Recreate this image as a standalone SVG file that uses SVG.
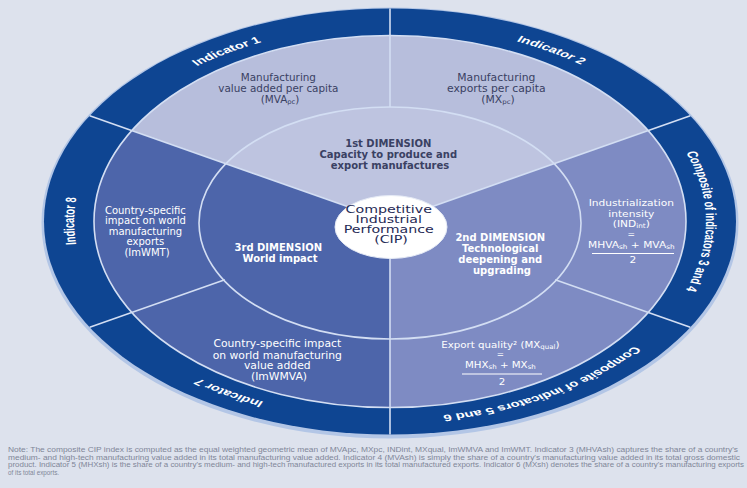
<svg xmlns="http://www.w3.org/2000/svg" width="747" height="488" viewBox="0 0 747 488">
<defs>
<style>
.t{font-family:"DejaVu Sans","Liberation Sans",sans-serif;font-size:10px;text-anchor:middle}
.f{font-size:9.5px}
.dk{fill:#3a4163}
.nv{fill:#1f2a55}
.wh{fill:#ffffff}
.b{font-weight:bold}
.sub{font-size:6.5px}
.eq{font-size:8px}
.ln{stroke:#d3def3;stroke-width:1.6;fill:none}
.frac{stroke:#ffffff;stroke-width:1}
.bl{font-family:"Liberation Sans",Arial,sans-serif;font-size:9.3px;font-weight:bold;fill:#ffffff;text-anchor:middle}
.note{font-family:"Liberation Sans",Arial,sans-serif;font-size:6.3px;fill:#7f8698}
</style>
<clipPath id="cIn"><ellipse cx="390" cy="221.5" rx="296" ry="186"/></clipPath>
<clipPath id="cMid"><ellipse cx="390" cy="223" rx="191" ry="116"/></clipPath>
<path id="arc" d="M -170.26,-98.3 A 196.6 196.6 0 1 1 170.26,98.3 A 196.6 196.6 0 1 1 -170.26,-98.3"/>
</defs>

<rect width="747" height="488" fill="#dde2ed"/>

<g id="outer-band">
<ellipse cx="390" cy="223" rx="348.5" ry="215.5" fill="#b3c6e6"/>
<ellipse cx="390" cy="221.5" rx="346" ry="213" fill="#0e4592"/>
</g>

<g id="sectors" clip-path="url(#cIn)">
<polygon id="dim1-area" fill="#b7bedc" points="390,221.5 -206,11.5 -206,-200 986,-200 986,11.5"/>
<polygon id="dim2-area" fill="#7e8bc3" points="390,221.5 986,11.5 986,600 390,600"/>
<polygon id="dim3-area" fill="#4d65aa" points="390,221.5 390,600 -206,600 -206,11.5"/>
</g>
<g id="dim1-inner" clip-path="url(#cMid)">
<polygon fill="#bec4e0" points="390,221.5 -206,11.5 -206,-200 986,-200 986,11.5"/>
</g>

<g id="connectors">
<ellipse class="ln" cx="390" cy="221.5" rx="296" ry="186" stroke="#c4d5f0" stroke-width="2"/>
<ellipse class="ln" cx="390" cy="223" rx="191" ry="116"/>
<line class="ln" x1="390" y1="221.5" x2="89.7" y2="115.7"/>
<line class="ln" x1="390" y1="221.5" x2="690.3" y2="115.7"/>
<line class="ln" x1="390" y1="107" x2="390" y2="8.5"/>
<line class="ln" x1="390" y1="221.5" x2="390" y2="434.5"/>
<line class="ln" x1="224.8" y1="279.7" x2="89.7" y2="327.3"/>
<line class="ln" x1="555.2" y1="279.7" x2="690.3" y2="327.3"/>
</g>

<g id="cip">
<ellipse cx="391" cy="227" rx="56" ry="31.5" fill="#ffffff" stroke="#e6ebf6" stroke-width="1"/>
<text class="t nv" transform="translate(391,0) scale(1.42,1)">
<tspan x="0" y="213.5">Competitive</tspan>
<tspan x="0" y="223.5">Industrial</tspan>
<tspan x="0" y="233.5">Performance</tspan>
<tspan x="0" y="243">(CIP)</tspan>
</text>
</g>

<g id="dim1">
<text class="t dk b">
<tspan x="390" y="146.5">1st DIMENSION</tspan>
<tspan x="390" y="158">Capacity to produce and</tspan>
<tspan x="390" y="168.5">export manufactures</tspan>
</text>
</g>

<g id="indicator1-text">
<text class="t dk" transform="translate(280,0) scale(1.04,1)">
<tspan x="0" y="81.5">Manufacturing</tspan>
<tspan x="0" y="92.5">value added per capita</tspan>
<tspan x="0" y="103">(MVA</tspan><tspan class="sub" dy="1.5">pc</tspan><tspan dy="-1.5">)</tspan>
</text>
</g>

<g id="indicator2-text">
<text class="t dk" transform="translate(498,0) scale(1.08,1)">
<tspan x="0" y="81.5">Manufacturing</tspan>
<tspan x="0" y="92.5">exports per capita</tspan>
<tspan x="0" y="103">(MX</tspan><tspan class="sub" dy="1.5">pc</tspan><tspan dy="-1.5">)</tspan>
</text>
</g>

<g id="dim2">
<text class="t wh b">
<tspan x="502" y="240.5">2nd DIMENSION</tspan>
<tspan x="502" y="251.5">Technological</tspan>
<tspan x="502" y="262.5">deepening and</tspan>
<tspan x="502" y="273.5">upgrading</tspan>
</text>
</g>

<g id="indicator34-text">
<text class="t f wh" transform="translate(633,0) scale(1.12,1)">
<tspan x="0" y="206.5">Industrialization</tspan>
<tspan x="0" y="217">intensity</tspan>
<tspan x="0" y="227">(IND</tspan><tspan class="sub" dy="1.5">int</tspan><tspan dy="-1.5">)</tspan>
<tspan class="eq" x="0" y="237">=</tspan>
<tspan x="0" y="248">MHVA</tspan><tspan class="sub" dy="1.5">sh</tspan><tspan dy="-1.5"> + MVA</tspan><tspan class="sub" dy="1.5">sh</tspan>
<tspan x="0" y="263">2</tspan>
</text>
<line class="frac" x1="592" y1="253.5" x2="674" y2="253.5"/>
</g>

<g id="indicator56-text">
<text class="t f wh" transform="translate(502,0) scale(1.08,1)">
<tspan x="0" y="348">Export quality² (MX</tspan><tspan class="sub" dy="1.5">qual</tspan><tspan dy="-1.5">)</tspan>
<tspan class="eq" x="0" y="357.5">=</tspan>
<tspan x="0" y="368">MHX</tspan><tspan class="sub" dy="1.5">sh</tspan><tspan dy="-1.5"> + MX</tspan><tspan class="sub" dy="1.5">sh</tspan>
<tspan x="0" y="385">2</tspan>
</text>
<line class="frac" x1="462" y1="374" x2="542" y2="374"/>
</g>

<g id="dim3">
<text class="t wh b">
<tspan x="280" y="250.5">3rd DIMENSION</tspan>
<tspan x="280" y="261.5">World impact</tspan>
</text>
</g>

<g id="indicator8-text">
<text class="t wh">
<tspan x="147" y="213.5">Country-specific</tspan>
<tspan x="147" y="224">impact on world</tspan>
<tspan x="147" y="234.5">manufacturing</tspan>
<tspan x="147" y="245">exports</tspan>
<tspan x="147" y="255.5">(ImWMT)</tspan>
</text>
</g>

<g id="indicator7-text">
<text class="t wh" transform="translate(279,0) scale(1.08,1)">
<tspan x="0" y="347.5">Country-specific impact</tspan>
<tspan x="0" y="359">on world manufacturing</tspan>
<tspan x="0" y="369.5">value added</tspan>
<tspan x="0" y="380.5">(ImWMVA)</tspan>
</text>
</g>

<g id="band-labels" transform="translate(390,221.5) scale(1.605,0.9975)">
<g id="label-indicator1"><text class="bl"><textPath href="#arc" startOffset="8.1%">Indicator 1</textPath></text></g>
<g id="label-indicator2"><text class="bl"><textPath href="#arc" startOffset="25.1%">Indicator 2</textPath></text></g>
<g id="label-composite34"><text class="bl"><textPath href="#arc" startOffset="41.67%">Composite of indicators 3 and 4</textPath></text></g>
<g id="label-composite56"><text class="bl"><textPath href="#arc" startOffset="58.3%">Composite of indicators 5 and 6</textPath></text></g>
<g id="label-indicator7"><text class="bl"><textPath href="#arc" startOffset="75.1%">Indicator 7</textPath></text></g>
<g id="label-indicator8"><text class="bl"><textPath href="#arc" startOffset="91.7%">Indicator 8</textPath></text></g>
</g>

<g id="note">
<text class="note" x="8" y="452" textLength="730" lengthAdjust="spacingAndGlyphs">Note: The composite CIP index is computed as the equal weighted geometric mean of MVApc, MXpc, INDint, MXqual, ImWMVA and ImWMT. Indicator 3 (MHVAsh) captures the share of a country's</text>
<text class="note" x="8" y="459.5" textLength="732" lengthAdjust="spacingAndGlyphs">medium- and high-tech manufacturing value added in its total manufacturing value added. Indicator 4 (MVAsh) is simply the share of a country's manufacturing value added in its total gross domestic</text>
<text class="note" x="8" y="467" textLength="736" lengthAdjust="spacingAndGlyphs">product. Indicator 5 (MHXsh) is the share of a country's medium- and high-tech manufactured exports in its total manufactured exports. Indicator 6 (MXsh) denotes the share of a country's manufacturing exports</text>
<text class="note" x="8" y="474.5">of its total exports.</text>
</g>
</svg>
